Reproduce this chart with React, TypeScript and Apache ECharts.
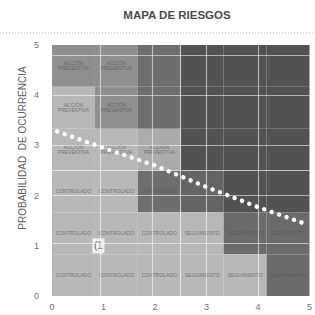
import React, { useEffect, useRef } from "react";
import * as echarts from "echarts";

const titleText = "MAPA DE RIESGOS";
const yAxisTitle = "PROBABILIDAD  DE OCURRENCIA";
const axisMin = 0;
const axisMax = 5;
const tickInterval = 1;
const gridCount = 6;

// rows listed from top to bottom, columns from left to right
const cellLevels = [
  [1, 1, 2, 3, 3, 3],
  [0, 1, 2, 3, 3, 3],
  [0, 0, 6, 3, 3, 3],
  [0, 0, 2, 4, 3, 3],
  [0, 0, 0, 0, 5, 5],
  [0, 0, 0, 0, 0, 5],
];
const cellLabels = [
  ["ACCIÓN\nPREVENTIVA", "ACCIÓN\nPREVENTIVA", "", "", "", ""],
  ["ACCIÓN\nPREVENTIVA", "ACCIÓN\nPREVENTIVA", "", "", "", ""],
  ["ACCIÓN\nPREVENTIVA", "ACCIÓN\nPREVENTIVA", "ACCIÓN\nPREVENTIVA", "", "", ""],
  ["CONTROLADO", "CONTROLADO", "CONTROLADO", "", "", ""],
  ["CONTROLADO", "CONTROLADO", "CONTROLADO", "SEGUIMIENTO", "SEGUIMIENTO", "SEGUIMIENTO"],
  ["CONTROLADO", "CONTROLADO", "CONTROLADO", "SEGUIMIENTO", "SEGUIMIENTO", "SEGUIMIENTO"],
];
const levelColors = ["#b8b8b8", "#8f8f8f", "#6e6e6e", "#525252", "#646464", "#6b6b6b", "#acacac"];
const levelTextColors = ["#747474", "#666666", "#5c5c5c", "#484848", "#555555", "#5a5a5a", "#727272"];

const trendX = [0.1, 1, 2, 3, 4, 4.86];
const trendY = [3.28, 2.95, 2.6, 2.17, 1.77, 1.46];

const hGridValues = [4.8, 4, 3, 2.5, 2, 1.05];
const vGridValues = [0.93, 1.95, 2.5, 3, 4];

const markerPoint = [0.9, 1.0];
const markerText = "(1";

export default function App() {
  const ref = useRef<HTMLDivElement>(null);
  useEffect(() => {
    if (!ref.current) return;
    const chart = echarts.init(ref.current, undefined, { renderer: "svg" });
    const step = (axisMax - axisMin) / gridCount;
    const cells: number[][] = [];
    cellLevels.forEach((row, r) => row.forEach((lvl, c) => cells.push([c, r, lvl])));
    const font = "'Liberation Sans', Arial, sans-serif";

    chart.setOption({
      animation: false,
      backgroundColor: "#ffffff",
      grid: { left: 52, right: 4, top: 45, bottom: 19 },
      xAxis: {
        type: "value",
        min: axisMin,
        max: axisMax,
        interval: tickInterval,
        axisLine: { show: false },
        axisTick: { show: false },
        splitLine: { show: false },
        axisLabel: { color: "#6f6f6f", fontSize: 9, margin: 6, fontFamily: font },
      },
      yAxis: {
        type: "value",
        min: axisMin,
        max: axisMax,
        interval: tickInterval,
        axisLine: { show: false },
        axisTick: { show: false },
        splitLine: { show: false },
        axisLabel: { color: "#6f6f6f", fontSize: 9, margin: 13, fontFamily: font },
      },
      graphic: [
        {
          type: "text",
          x: 177,
          y: 15,
          style: {
            text: titleText,
            fill: "#4a4a4a",
            font: `bold 11.5px ${font}`,
            align: "center",
            verticalAlign: "middle",
          },
        },
        {
          type: "line",
          shape: { x1: 0, y1: 33, x2: 315, y2: 33 },
          style: { stroke: "#b5b5b5", lineWidth: 1, lineDash: [1, 2] },
        },
        {
          type: "text",
          x: 22,
          y: 148,
          rotation: Math.PI / 2,
          style: {
            text: yAxisTitle,
            fill: "#5e5e5e",
            font: `10px ${font}`,
            align: "center",
            verticalAlign: "middle",
          },
        },
      ],
      series: [
        {
          type: "custom",
          z: 1,
          silent: true,
          data: cells,
          renderItem: (params: any, api: any) => {
            const c = api.value(0);
            const r = api.value(1);
            const lvl = api.value(2);
            const p0 = api.coord([axisMin + c * step, axisMax - r * step]);
            const p1 = api.coord([axisMin + (c + 1) * step, axisMax - (r + 1) * step]);
            const label = cellLabels[r][c];
            return {
              type: "group",
              children: [
                {
                  type: "rect",
                  shape: { x: p0[0], y: p0[1], width: p1[0] - p0[0], height: p1[1] - p0[1] },
                  style: { fill: levelColors[lvl] },
                },
                {
                  type: "text",
                  x: (p0[0] + p1[0]) / 2,
                  y: (p0[1] + p1[1]) / 2,
                  style: {
                    text: label,
                    fill: levelTextColors[lvl],
                    font: `5px ${font}`,
                    align: "center",
                    verticalAlign: "middle",
                  },
                },
              ],
            };
          },
        },
        {
          type: "line",
          z: 2,
          data: [],
          silent: true,
          markLine: {
            silent: true,
            symbol: "none",
            label: { show: false },
            lineStyle: { color: "rgba(255,255,255,0.55)", width: 1.2, type: "solid" },
            data: [
              ...hGridValues.map((v) => ({ yAxis: v })),
              ...vGridValues.map((v) => ({ xAxis: v })),
            ],
          },
        },
        {
          type: "line",
          z: 3,
          silent: true,
          symbol: "none",
          showSymbol: false,
          data: trendX.map((x, i) => [x, trendY[i]]),
          lineStyle: { color: "#ffffff", width: 4.4, type: [0.1, 7.8], cap: "round" },
        },
        {
          type: "scatter",
          z: 4,
          silent: true,
          symbol: "rect",
          symbolSize: [12, 15],
          data: [markerPoint],
          itemStyle: { color: "#ffffff", borderColor: "#dddddd", borderWidth: 0.5 },
          label: {
            show: true,
            position: "inside",
            formatter: markerText,
            color: "#333333",
            fontSize: 10,
            fontFamily: font,
          },
        },
      ],
    });
    return () => chart.dispose();
  }, []);
  return (
    <div
      ref={ref}
      style={{ position: "fixed", left: 0, top: 0, width: 315, height: 315 }}
    />
  );
}
